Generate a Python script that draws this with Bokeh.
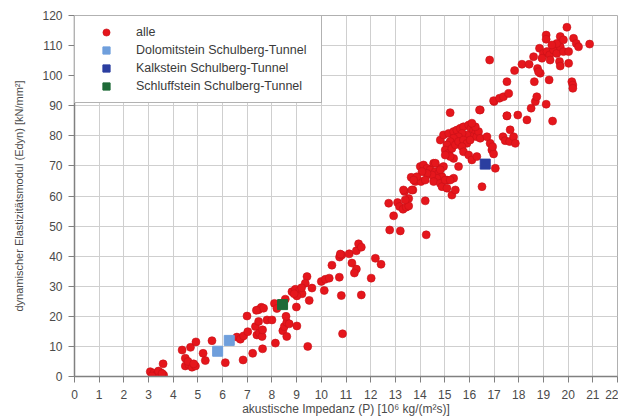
from bokeh.plotting import figure
from bokeh.models import Legend, LegendItem, FixedTicker, Range1d
from bokeh.embed import file_html
from bokeh.resources import INLINE

# --- data ---
alle_x = [
    3.07, 3.21, 3.34, 3.48, 3.61, 3.28, 3.14, 3.40, 3.55, 3.59,
    4.36, 4.70, 4.92, 4.49, 4.49, 4.63, 4.76, 4.90, 4.60, 4.83, 5.21, 5.30, 5.57, 6.11,
    6.58, 6.72, 6.85, 7.02, 6.99, 6.83, 7.22, 7.33, 7.39, 7.46, 7.46, 7.57, 7.66, 7.37,
    7.49, 7.60, 7.62, 7.62, 7.80, 8.00, 8.14, 8.10, 8.20,
    8.54, 8.44, 8.50, 8.60, 8.70, 8.60, 8.57, 8.99, 8.81, 8.95, 9.12, 9.22, 9.01, 9.42,
    9.35, 9.62, 9.51, 9.01, 9.45, 9.20, 8.90,
    10.00, 10.12, 10.16, 10.32, 10.43, 10.73, 10.74, 10.83, 10.77, 10.81, 10.86, 11.13,
    11.24, 11.42, 11.34, 11.42, 11.51, 11.62, 11.62, 12.02, 12.19, 12.42,
    12.73, 12.77, 12.93, 13.09, 13.20, 13.17, 13.31, 13.44, 13.54, 13.54, 13.37, 13.71,
    14.21, 14.25, 13.64, 13.81, 14.04, 14.12, 13.33, 13.40, 13.67,
    14.01, 14.14, 14.28, 14.41, 14.55, 14.62, 14.75, 14.82, 14.95, 14.89, 14.68, 14.48,
    14.28, 14.08, 13.87, 13.74, 14.21, 14.55, 14.82, 15.09, 15.36, 15.29, 14.89, 14.62,
    14.82, 15.02, 15.22, 15.43, 15.56, 15.09,
    14.82, 14.95, 15.16, 15.36, 15.49, 15.63, 15.76, 15.97, 16.06, 16.17, 16.24, 16.10,
    15.90, 15.70, 15.56, 15.36, 15.22, 15.09, 15.02, 15.16, 15.29, 15.43, 15.56, 15.76,
    15.90, 16.03, 16.30, 16.37, 16.24, 16.10, 16.44, 15.70, 15.76, 15.97, 16.10, 16.30,
    15.36, 15.22, 15.02,
    15.22, 16.44, 17.52, 17.00, 16.91, 16.98, 16.84, 16.71, 17.05, 16.51,
    16.82, 17.83, 18.13, 18.42, 17.52, 16.98, 17.22, 17.38, 17.59, 16.41, 17.52, 17.96,
    18.33, 17.65, 17.36, 17.45, 17.63, 17.79, 17.86, 16.94, 18.50, 18.67, 18.73, 19.11,
    19.37, 18.63, 19.23, 18.76, 18.87, 18.60, 18.84, 19.00, 19.14, 19.25, 19.41, 19.54,
    19.68, 19.81, 19.54, 19.11, 19.11, 19.68, 19.81, 19.95, 20.22, 20.33, 20.42, 20.87,
    19.65, 19.68, 20.02, 20.15, 20.19, 20.19, 18.80, 19.27, 18.94, 19.34, 20.02,
]
alle_y = [
    1.6, 1.1, 0.8, 1.3, 0.5, 0.0, 0.2, 1.8, 1.0, 4.2,
    8.8, 9.7, 11.5, 6.1, 3.5, 3.9, 3.1, 3.5, 5.0, 4.2, 7.7, 5.3, 11.9, 4.6,
    13.1, 12.4, 13.5, 14.9, 20.1, 5.5, 7.7, 16.6, 13.8, 18.3, 22.2, 23.0, 22.7, 22.0,
    14.5, 13.3, 15.5, 9.2, 18.8, 18.8, 11.1, 24.3, 22.6,
    25.7, 15.2, 16.6, 18.0, 17.5, 13.3, 20.0, 23.1, 28.2, 29.0, 28.6, 27.5, 26.8, 33.2,
    31.0, 29.4, 25.3, 16.8, 10.0, 29.5, 27.5,
    31.6, 28.6, 32.3, 32.7, 37.0, 33.0, 39.7, 40.4, 40.7, 26.9, 14.2, 40.8,
    37.7, 35.7, 34.4, 41.8, 44.1, 43.0, 27.1, 32.7, 39.3, 37.3,
    57.6, 48.7, 53.4, 57.8, 48.4, 56.5, 55.6, 56.3, 56.7, 59.2, 61.5, 62.0,
    58.4, 47.1, 66.2, 64.8, 64.8, 68.4, 62.0, 58.7, 62.0,
    69.8, 70.3, 69.2, 68.7, 70.9, 68.1, 67.5, 69.2, 69.8, 66.4, 65.9, 67.0,
    67.5, 68.1, 66.4, 65.3, 65.3, 64.8, 64.2, 65.3, 65.9, 60.3, 63.1, 70.9,
    68.7, 65.3, 65.3, 62.0, 69.8, 62.6,
    78.6, 80.3, 80.8, 81.4, 81.9, 82.5, 83.0, 83.6, 82.5, 81.9, 80.8, 79.7,
    80.3, 80.8, 79.7, 79.2, 78.1, 77.0, 75.3, 74.2, 75.8, 77.0, 78.1, 78.6,
    77.5, 78.6, 79.7, 81.4, 83.0, 84.2, 79.2, 76.4, 74.7, 73.6, 72.0, 73.1,
    72.5, 73.1, 73.6,
    87.7, 88.6, 86.6, 91.4, 75.3, 74.0, 77.5, 79.7, 69.2, 63.1,
    105.2, 101.7, 103.8, 103.8, 98.0, 91.7, 92.5, 93.0, 94.1, 88.6, 86.7, 86.9,
    85.3, 82.0, 79.7, 78.4, 78.1, 79.7, 77.5, 76.4, 89.2, 91.4, 93.0, 90.5,
    84.9, 98.0, 98.6, 102.4, 100.8, 106.3, 109.1, 107.4, 108.0, 106.9, 108.5, 107.4,
    109.6, 108.0, 110.7, 113.5, 112.1, 113.0, 111.9, 116.1, 112.4, 110.7, 109.6, 110.5,
    104.7, 103.2, 104.1, 98.0, 96.9, 95.8, 101.3, 105.2, 105.8, 110.2, 108.0,
]

dolomit_x = [5.80, 6.27]
dolomit_y = [8.4, 12.0]
kalk_x = [16.64]
kalk_y = [70.6]
schluff_x = [8.43]
schluff_y = [23.9]

x_ticks = list(range(0, 23))
y_ticks = list(range(0, 121, 10))

legend_labels = ["alle", "Dolomitstein Schulberg-Tunnel",
                 "Kalkstein Schulberg-Tunnel", "Schluffstein Schulberg-Tunnel"]

FONT = "Liberation Sans"
RED = "#e5161c"
LBLUE = "#6f9fdc"
DBLUE = "#2b3ea0"
GREEN = "#1d6a37"

p = figure(width=618, height=418, output_backend="svg", toolbar_location=None,
           x_range=Range1d(0, 22), y_range=Range1d(0, 120),
           min_border_left=74, min_border_right=1, min_border_top=15,
           min_border_bottom=41)
p.background_fill_color = "white"
p.border_fill_color = "white"
p.outline_line_color = "#b0b0b0"
p.outline_line_width = 1

for ax in (p.xaxis[0], p.yaxis[0]):
    ax.major_label_text_font = FONT
    ax.major_label_text_font_size = "12px"
    ax.major_label_text_color = "#4a4a4a"
    ax.axis_label_text_font = FONT
    ax.axis_label_text_font_style = "normal"
    ax.axis_label_text_color = "#4a4a4a"
    ax.axis_line_color = "#808080"
    ax.axis_line_width = 1.5
    ax.major_tick_line_color = "#808080"
    ax.major_tick_in = 0
    ax.major_tick_out = 6
    ax.minor_tick_line_color = None

p.xaxis.ticker = FixedTicker(ticks=x_ticks)
p.yaxis.ticker = FixedTicker(ticks=y_ticks)
p.xaxis.major_label_standoff = 7
p.yaxis.major_label_standoff = 6
p.xaxis.axis_label = "akustische Impedanz (P) [10\u2076 kg/(m\u00b2s)]"
p.xaxis.axis_label_text_font_size = "12px"
p.xaxis.axis_label_standoff = 0
p.yaxis.axis_label = "dynamischer Elastizit\u00e4tsmodul (Edyn) [kN/mm\u00b2]"
p.yaxis.axis_label_text_font_size = "11px"
p.yaxis.axis_label_standoff = 14

p.xgrid.ticker = FixedTicker(ticks=x_ticks)
p.ygrid.ticker = FixedTicker(ticks=y_ticks)
p.grid.grid_line_color = "#cfcfcf"
p.grid.grid_line_width = 1

r_alle = p.scatter(alle_x, alle_y, marker="circle", size=8,
                   fill_color=RED, line_color="#c81018", line_width=0.6)
r_dol = p.scatter(dolomit_x, dolomit_y, marker="square", size=10,
                  fill_color=LBLUE, line_color=LBLUE)
r_kalk = p.scatter(kalk_x, kalk_y, marker="square", size=10,
                   fill_color=DBLUE, line_color=DBLUE)
r_sch = p.scatter(schluff_x, schluff_y, marker="square", size=10,
                  fill_color=GREEN, line_color=GREEN)

legend = Legend(items=[
    LegendItem(label=legend_labels[0], renderers=[r_alle]),
    LegendItem(label=legend_labels[1], renderers=[r_dol]),
    LegendItem(label=legend_labels[2], renderers=[r_kalk]),
    LegendItem(label=legend_labels[3], renderers=[r_sch]),
], location="top_left")
legend.margin = 0
legend.padding = 7
legend.spacing = 0
legend.glyph_width = 48
legend.glyph_height = 18
legend.label_height = 18
legend.label_width = 178
legend.label_standoff = 6
legend.label_text_font = FONT
legend.label_text_font_size = "12.5px"
legend.label_text_color = "#3a3a3a"
legend.border_line_color = "#666666"
legend.border_line_width = 1
legend.background_fill_color = "white"
legend.background_fill_alpha = 1.0
p.add_layout(legend)

open("out.html", "w").write(file_html(p, INLINE))
